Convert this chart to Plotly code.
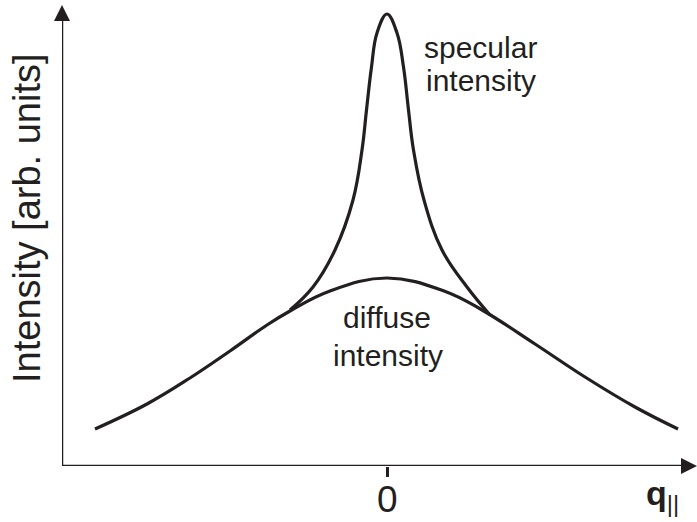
import plotly.graph_objects as go

# Broad diffuse scattering curve (q in arbitrary units, intensity in arb. units)
q_diffuse = [-2.92, -2.40, -1.97, -1.57, -1.20, -0.97, -0.57, 0.0,
             0.57, 0.95, 1.48, 1.98, 2.48, 2.91]
I_diffuse = [0.37, 0.62, 0.88, 1.15, 1.41, 1.55, 1.75, 1.88,
             1.75, 1.56, 1.22, 0.89, 0.59, 0.37]

# Sharp specular peak sitting on top of the diffuse background
q_specular = [-0.97, -0.74, -0.52, -0.34, -0.25, -0.205, -0.155, -0.10, 0.0,
              0.10, 0.165, 0.215, 0.265, 0.37, 0.55, 0.80, 1.03]
I_specular = [1.56, 1.79, 2.16, 2.66, 3.16, 3.56, 3.99, 4.33, 4.52,
              4.33, 3.99, 3.56, 3.16, 2.66, 2.16, 1.79, 1.51]

x_ticks = [0]
x_tick_labels = ["0"]

INK = "#231f20"
FONT = "Liberation Sans, Arial, Helvetica, sans-serif"
X_MIN, X_MAX = -3.25, 3.10
Y_MIN, Y_MAX = 0.0, 4.61


def px(x):
    """Data x -> paper fraction (lets labels sit outside the axis ranges)."""
    return (x - X_MIN) / (X_MAX - X_MIN)


def py(y):
    return (y - Y_MIN) / (Y_MAX - Y_MIN)


fig = go.Figure()
for qs, Is in ((q_diffuse, I_diffuse), (q_specular, I_specular)):
    fig.add_trace(go.Scatter(x=qs, y=Is, mode="lines",
                             line=dict(color=INK, width=3.2, shape="spline", smoothing=1.15),
                             hoverinfo="skip"))

# Axis lines with arrow heads at their ends
fig.add_shape(type="line", x0=X_MIN, y0=Y_MIN, x1=X_MAX - 0.08, y1=Y_MIN,
              xref="x", yref="y", line=dict(color=INK, width=2.5), layer="above")
fig.add_shape(type="line", x0=X_MIN, y0=Y_MIN, x1=X_MIN, y1=Y_MAX - 0.08,
              xref="x", yref="y", line=dict(color=INK, width=2.5), layer="above")
fig.add_trace(go.Scatter(x=[X_MAX, X_MIN], y=[Y_MIN, Y_MAX], mode="markers",
                         marker=dict(symbol=["arrow-right", "arrow-up"], size=16,
                                     color=INK, line=dict(width=0)),
                         cliponaxis=False, hoverinfo="skip"))

annotations = []
# Tick label under the x axis
for tv, tl in zip(x_ticks, x_tick_labels):
    annotations.append(dict(x=px(tv), y=py(-0.33), xref="paper", yref="paper", text=tl,
                            showarrow=False, font=dict(family=FONT, size=37, color=INK),
                            xanchor="center", yanchor="middle"))

# Axis titles
annotations.append(dict(x=px(2.75), y=py(-0.29), xref="paper", yref="paper",
                        text="<b>q</b><sub>||</sub>", showarrow=False,
                        font=dict(family=FONT, size=34, color=INK),
                        xanchor="center", yanchor="middle"))
annotations.append(dict(x=px(-3.60), y=py(2.48), xref="paper", yref="paper",
                        text="Intensity [arb. units]", showarrow=False, textangle=-90,
                        font=dict(family=FONT, size=38, color=INK),
                        xanchor="center", yanchor="middle"))

# Curve labels
curve_labels = [("specular", 0.93, 4.19), ("intensity", 0.94, 3.86),
                ("diffuse", 0.0, 1.49), ("intensity", 0.01, 1.11)]
for txt, xx, yy in curve_labels:
    annotations.append(dict(x=xx, y=yy, xref="x", yref="y", text=txt, showarrow=False,
                            font=dict(family=FONT, size=30, color=INK),
                            xanchor="center", yanchor="middle"))

fig.update_layout(
    width=697, height=522,
    margin=dict(l=62, r=0, t=5, b=56),
    paper_bgcolor="white", plot_bgcolor="white",
    showlegend=False,
    xaxis=dict(range=[X_MIN, X_MAX], showgrid=False, zeroline=False, showline=False,
               tickvals=x_ticks, showticklabels=False, ticks="outside",
               ticklen=10, tickwidth=2.5, tickcolor=INK, fixedrange=True),
    yaxis=dict(range=[Y_MIN, Y_MAX], showgrid=False, zeroline=False, showline=False,
               showticklabels=False, ticks="", fixedrange=True),
    annotations=annotations,
)

fig.write_html("out.html")
